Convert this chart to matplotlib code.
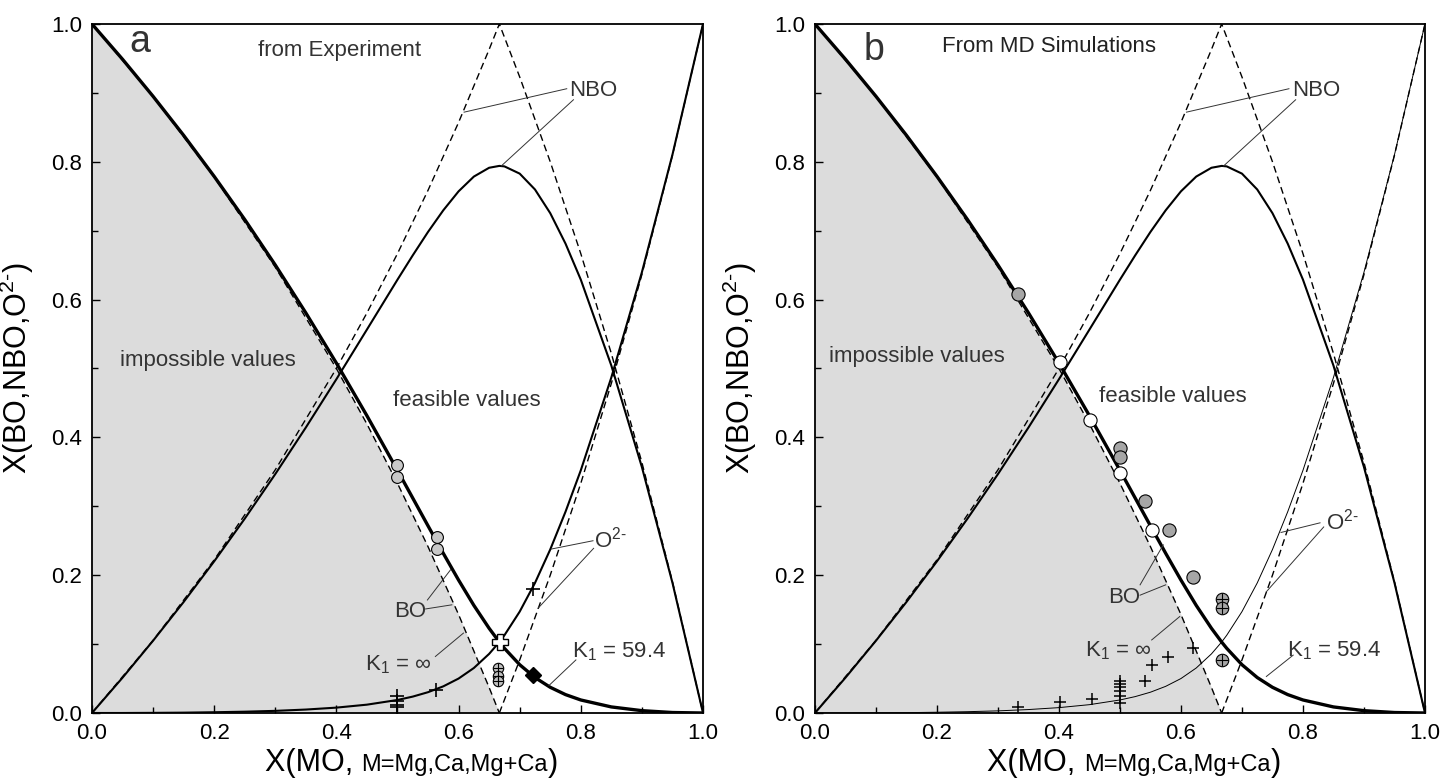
import matplotlib
matplotlib.use("Agg")
import matplotlib.pyplot as plt
from matplotlib.ticker import MultipleLocator, FormatStrFormatter
from matplotlib.offsetbox import TextArea, HPacker, AnnotationBbox

plt.rcParams['font.family'] = ['Liberation Sans', 'DejaVu Sans']
plt.rcParams['mathtext.fontset'] = 'custom'
plt.rcParams['mathtext.rm'] = 'Liberation Sans'
plt.rcParams['mathtext.it'] = 'Liberation Sans:italic'
plt.rcParams['mathtext.bf'] = 'Liberation Sans:bold'

# Speciation curves for K1 = 59.4
x_mo = [0.0, 0.05, 0.1, 0.15, 0.2, 0.25, 0.3, 0.35, 0.4, 0.45, 0.5, 0.525, 0.55, 0.575,
        0.6, 0.625, 0.65, 0.6667, 0.675, 0.7, 0.725, 0.75, 0.775, 0.8, 0.85, 0.9, 0.95, 1.0]
bo_k = [1.0, 0.9488, 0.8950, 0.8384, 0.7788, 0.7162, 0.6502, 0.5807, 0.5078, 0.4314, 0.3522,
        0.3119, 0.2716, 0.2317, 0.1929, 0.1562, 0.1229, 0.1030, 0.0939, 0.0701, 0.0515,
        0.0373, 0.0267, 0.0189, 0.0088, 0.0034, 0.0007, 0.0]
nbo_k = [0.0, 0.0512, 0.1049, 0.1611, 0.2201, 0.2820, 0.3467, 0.4143, 0.4844, 0.5565, 0.6289,
         0.6642, 0.6982, 0.7296, 0.7571, 0.7785, 0.7913, 0.7940, 0.7933, 0.7828, 0.7598,
         0.7254, 0.6812, 0.6289, 0.5042, 0.3569, 0.1890, 0.0]
o2_k = [0.0, 0.0, 0.0002, 0.0005, 0.0011, 0.0019, 0.0031, 0.0050, 0.0078, 0.0121, 0.0189,
        0.0238, 0.0302, 0.0387, 0.0500, 0.0653, 0.0858, 0.1030, 0.1128, 0.1471, 0.1887,
        0.2373, 0.2921, 0.3522, 0.4870, 0.6397, 0.8103, 1.0]

# Limiting case K1 = infinity (dashed)
x_inf = [0.0, 0.1, 0.2, 0.3, 0.4, 0.45, 0.5, 0.55, 0.6, 0.65, 0.6667,
         0.7, 0.75, 0.8, 0.85, 0.9, 0.95, 1.0]
nbo_inf = [0.0, 0.1053, 0.2222, 0.3529, 0.5, 0.5806, 0.6667, 0.7586, 0.8571, 0.9630, 1.0,
           0.9231, 0.8, 0.6667, 0.5217, 0.3636, 0.1905, 0.0]
x_bo_inf = [0.0, 0.1, 0.2, 0.3, 0.4, 0.45, 0.5, 0.55, 0.6, 0.65, 0.6667]
bo_inf = [1.0, 0.8947, 0.7778, 0.6471, 0.5, 0.4194, 0.3333, 0.2414, 0.1429, 0.0370, 0.0]
x_o2_inf = [0.6667, 0.7, 0.75, 0.8, 0.85, 0.9, 0.95, 1.0]
o2_inf = [0.0, 0.0769, 0.2, 0.3333, 0.4783, 0.6364, 0.8095, 1.0]

# Panel a: experimental data
a_bo_x = [0.5, 0.5, 0.565, 0.565]
a_bo_y = [0.360, 0.343, 0.255, 0.238]
a_o2_x = [0.5, 0.5, 0.5, 0.5, 0.563, 0.721]
a_o2_y = [0.024, 0.018, 0.012, 0.008, 0.034, 0.180]
a_cross_x = [0.667]
a_cross_y = [0.103]
a_oplus_x = [0.665, 0.665, 0.665]
a_oplus_y = [0.065, 0.053, 0.046]
a_diam_x = [0.721]
a_diam_y = [0.055]

# Panel b: MD simulations
b_grey_x = [0.333, 0.5, 0.5, 0.541, 0.580, 0.620]
b_grey_y = [0.608, 0.384, 0.372, 0.308, 0.266, 0.197]
b_white_x = [0.401, 0.451, 0.5, 0.553]
b_white_y = [0.509, 0.425, 0.349, 0.266]
b_oplus_x = [0.668, 0.668, 0.668]
b_oplus_y = [0.165, 0.152, 0.077]
b_o2_x = [0.333, 0.401, 0.454, 0.5, 0.5, 0.5, 0.5, 0.5, 0.5, 0.541, 0.553, 0.579, 0.620]
b_o2_y = [0.008, 0.016, 0.020, 0.047, 0.042, 0.038, 0.032, 0.025, 0.015, 0.046, 0.069, 0.081, 0.094]

TXT = '#333333'
DASH = (0, (5, 3))
O2_TXT = r'O$^{\mathrm{2‐}}$'


def leader(ax, start, end):
    ax.plot([start[0], end[0]], [start[1], end[1]], color=TXT, lw=0.7, zorder=4)


def base_panel(ax, o2_lw):
    ax.fill_between(x_bo_inf, 0, bo_inf, color='#dcdcdc', lw=0, zorder=0)
    ax.plot(x_bo_inf, bo_inf, color='black', lw=1.0, ls=DASH, zorder=2)
    ax.plot(x_inf, nbo_inf, color='black', lw=1.0, ls=DASH, zorder=2)
    ax.plot(x_o2_inf, o2_inf, color='black', lw=1.0, ls=DASH, zorder=2)
    ax.plot(x_mo, nbo_k, color='black', lw=1.5, zorder=3)
    ax.plot(x_mo, o2_k, color='black', lw=o2_lw, zorder=3)
    ax.plot(x_mo, bo_k, color='black', lw=2.4, zorder=3)

    ax.set_xlim(0, 1)
    ax.set_ylim(0, 1)
    ax.xaxis.set_major_locator(MultipleLocator(0.2))
    ax.xaxis.set_minor_locator(MultipleLocator(0.1))
    ax.yaxis.set_major_locator(MultipleLocator(0.2))
    ax.yaxis.set_minor_locator(MultipleLocator(0.1))
    ax.xaxis.set_major_formatter(FormatStrFormatter('%.1f'))
    ax.yaxis.set_major_formatter(FormatStrFormatter('%.1f'))
    ax.tick_params(which='both', direction='in', top=False, right=False,
                   labelsize=16, width=1.0)
    ax.tick_params(which='major', length=6, pad=7)
    ax.tick_params(which='minor', length=4)
    for sp in ax.spines.values():
        sp.set_linewidth(1.3)

    ax.set_ylabel(r'X(BO,NBO,O$^{\mathrm{2‐}}$)', fontsize=22)
    ax.yaxis.set_label_coords(-0.092, 0.5)

    # x label with a smaller middle part
    parts = HPacker(children=[TextArea('X(MO, ', textprops=dict(size=22)),
                              TextArea('M=Mg,Ca,Mg+Ca', textprops=dict(size=17)),
                              TextArea(')', textprops=dict(size=22))],
                    align='baseline', pad=0, sep=0)
    ab = AnnotationBbox(parts, (0.523, -0.073), xycoords='axes fraction',
                        box_alignment=(0.5, 0.5), frameon=False, pad=0,
                        annotation_clip=False)
    ax.add_artist(ab)

    # NBO label, same place in both panels
    ax.text(0.821, 0.904, 'NBO', fontsize=16, color=TXT, ha='center', va='center')
    leader(ax, (0.777, 0.906), (0.609, 0.872))
    leader(ax, (0.788, 0.890), (0.670, 0.794))


fig = plt.figure(figsize=(14.48, 7.83), dpi=100)
ax_a = fig.add_axes([0.0635, 0.0894, 0.4220, 0.8800])
ax_b = fig.add_axes([0.5628, 0.0894, 0.4213, 0.8800])

# ---- panel a ----
base_panel(ax_a, 1.5)
ax_a.plot(a_bo_x, a_bo_y, 'o', ms=8.5, mfc='#c8c8c8', mec='black', mew=0.8, zorder=5)
ax_a.plot(a_o2_x, a_o2_y, '+', ms=10, color='black', mew=1.2, zorder=5)
ax_a.plot(a_oplus_x, a_oplus_y, 'o', ms=7.5, mfc='#c0c0c0', mec='black', mew=0.8, zorder=5)
ax_a.plot(a_oplus_x, a_oplus_y, '+', ms=7.5, color='black', mew=0.8, zorder=6)
ax_a.plot(a_cross_x, a_cross_y, 'P', ms=11, mfc='white', mec='black', mew=1.0, zorder=6)
ax_a.plot(a_diam_x, a_diam_y, 'D', ms=8, color='black', zorder=6)

ax_a.text(0.062, 0.959, 'a', fontsize=27, color=TXT, ha='left', va='baseline')
ax_a.text(0.405, 0.962, 'from Experiment', fontsize=16, color=TXT, ha='center', va='center')
ax_a.text(0.190, 0.511, 'impossible values', fontsize=16, color=TXT, ha='center', va='center')
ax_a.text(0.613, 0.453, 'feasible values', fontsize=16, color=TXT, ha='center', va='center')

ax_a.text(0.521, 0.147, 'BO', fontsize=16, color=TXT, ha='center', va='center')
leader(ax_a, (0.549, 0.164), (0.587, 0.208))
leader(ax_a, (0.546, 0.151), (0.589, 0.157))

ax_a.text(0.502, 0.070, r'K$_{\mathrm{1}}$ = ∞', fontsize=16, color=TXT, ha='center', va='center')
leader(ax_a, (0.562, 0.082), (0.608, 0.116))

ax_a.text(0.863, 0.089, r'K$_{\mathrm{1}}$ = 59.4', fontsize=16, color=TXT, ha='center', va='center')
leader(ax_a, (0.792, 0.077), (0.748, 0.040))

ax_a.text(0.821, 0.2395, O2_TXT, fontsize=16, color=TXT, ha='left', va='baseline')
leader(ax_a, (0.820, 0.250), (0.752, 0.238))
leader(ax_a, (0.821, 0.239), (0.730, 0.152))

# ---- panel b ----
base_panel(ax_b, 0.7)
ax_b.plot(b_o2_x, b_o2_y, '+', ms=9, color='black', mew=1.1, zorder=5)
ax_b.plot(b_grey_x, b_grey_y, 'o', ms=9.5, mfc='#a6a6a6', mec='black', mew=0.8, zorder=5)
ax_b.plot(b_white_x, b_white_y, 'o', ms=9.5, mfc='white', mec='black', mew=0.8, zorder=6)
ax_b.plot(b_oplus_x, b_oplus_y, 'o', ms=9, mfc='#a6a6a6', mec='black', mew=0.8, zorder=5)
ax_b.plot(b_oplus_x, b_oplus_y, '+', ms=9, color='black', mew=0.8, zorder=6)

ax_b.text(0.080, 0.948, 'b', fontsize=27, color=TXT, ha='left', va='baseline')
ax_b.text(0.208, 0.967, 'From MD Simulations', fontsize=16, color='#222222', ha='left', va='center')
ax_b.text(0.167, 0.517, 'impossible values', fontsize=16, color=TXT, ha='center', va='center')
ax_b.text(0.586, 0.459, 'feasible values', fontsize=16, color=TXT, ha='center', va='center')

ax_b.text(0.507, 0.168, 'BO', fontsize=16, color=TXT, ha='center', va='center')
leader(ax_b, (0.533, 0.186), (0.571, 0.244))
leader(ax_b, (0.533, 0.171), (0.575, 0.186))

ax_b.text(0.498, 0.091, r'K$_{\mathrm{1}}$ = ∞', fontsize=16, color=TXT, ha='center', va='center')
leader(ax_b, (0.552, 0.106), (0.598, 0.140))

ax_b.text(0.851, 0.091, r'K$_{\mathrm{1}}$ = 59.4', fontsize=16, color=TXT, ha='center', va='center')
leader(ax_b, (0.784, 0.084), (0.740, 0.053))

ax_b.text(0.838, 0.266, O2_TXT, fontsize=16, color=TXT, ha='left', va='baseline')
leader(ax_b, (0.828, 0.276), (0.764, 0.262))
leader(ax_b, (0.834, 0.270), (0.740, 0.176))

fig.savefig('out.png', dpi=100)
